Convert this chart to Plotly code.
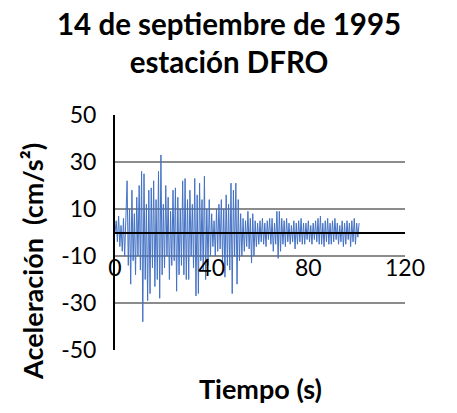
import plotly.graph_objects as go

dt = 0.5
accel = [
    0, 5, -4, 7, -6, 3, -8, 6, -10, 12,
    22, -14, 10, -22, 18, -12, 8, -18, 15, -10,
    20, -16, 26, -38, 25, -20, 12, -29, 18, -26,
    19, -15, 22, -23, 14, -20, 26, -28, 33, -18,
    12, -15, 20, -10, 15, -20, 9, -14, 18, -12,
    19, -25, 15, -18, 10, -14, 22, -18, 23, -20,
    14, -20, 18, -10, 12, -15, 23, -27, 16, -26,
    21, -12, 14, -16, 24, -20, 10, -14, 14, -10,
    8, -6, 5, -10, 10, -8, 12, -7, 14, -12,
    10, -19, 16, -14, 12, -16, 21, -26, 18, -10,
    21, -22, 14, -12, 8, -10, 6, -8, 5, -6,
    9, -7, 6, -13, 8, -10, 5, -6, 4, -5,
    5, -4, 6, -5, 4, -6, 5, -3, 6, -5,
    6, -8, 4, -5, 9, -11, 9, -8, 6, -5,
    5, -6, 6, -4, 4, -5, 3, -4, 5, -7,
    4, -5, 5, -4, 6, -5, 4, -5, 4, -3,
    5, -4, 3, -5, 4, -3, 5, -4, 6, -5,
    7, -5, 4, -6, 5, -4, 6, -5, 4, -5,
    5, -4, 6, -3, 4, -5, 3, -4, 5, -6,
    4, -5, 5, -3, 4, -6, 5, -4, 6, -5,
    4, -2, 4,
]
time = [i * dt for i in range(len(accel))]

title_text = "14 de septiembre de 1995<br>estación DFRO"
x_title = "Tiempo (s)"
y_title = "Aceleración  (cm/s²)"
x_ticks = [0, 40, 80, 120]
y_ticks = [-50, -30, -10, 10, 30, 50]

FONT = "Lato"

fig = go.Figure()
fig.add_trace(go.Scatter(
    x=time, y=accel, mode="lines",
    line=dict(color="#4472C4", width=1),
    showlegend=False, hoverinfo="skip",
))

fig.update_layout(
    width=457, height=413,
    margin=dict(l=115, r=52, t=115, b=63),
    paper_bgcolor="white", plot_bgcolor="white",
    font=dict(family=FONT, color="black", size=20),
    xaxis=dict(
        range=[0, 120], tickvals=x_ticks, ticktext=[str(v) for v in x_ticks],
        showgrid=False, zeroline=False,
        showline=True, linecolor="black", linewidth=1.5,
        anchor="free", position=0.5,
        ticks="", ticklabelstandoff=15,
        tickfont=dict(size=23, family=FONT),
    ),
    yaxis=dict(
        range=[-50, 50], tickvals=y_ticks, ticktext=[str(v) for v in y_ticks],
        showgrid=True, gridcolor="#8c8c8c", gridwidth=1.5,
        zeroline=False,
        showline=True, linecolor="black", linewidth=2,
        ticks="", ticklabelstandoff=12,
        tickfont=dict(size=23, family=FONT),
    ),
    annotations=[
        dict(text=f"<b>{title_text}</b>", xref="paper", yref="paper",
             x=(228.5 - 115) / 290, y=(350 - 42) / 235,
             xanchor="center", yanchor="middle",
             showarrow=False, font=dict(size=29.5, family=FONT)),
        dict(text=f"<b>{x_title}</b>", xref="paper", yref="paper",
             x=0.5, y=-38 / 235, xanchor="center", yanchor="middle",
             showarrow=False, font=dict(size=27, family=FONT)),
        dict(text=f"<b>{y_title}</b>", xref="paper", yref="paper",
             x=(32 - 115) / 290, y=(350 - 262) / 235,
             xanchor="center", yanchor="middle",
             textangle=-90, showarrow=False, font=dict(size=27, family=FONT)),
    ],
)

fig.write_html("out.html")
